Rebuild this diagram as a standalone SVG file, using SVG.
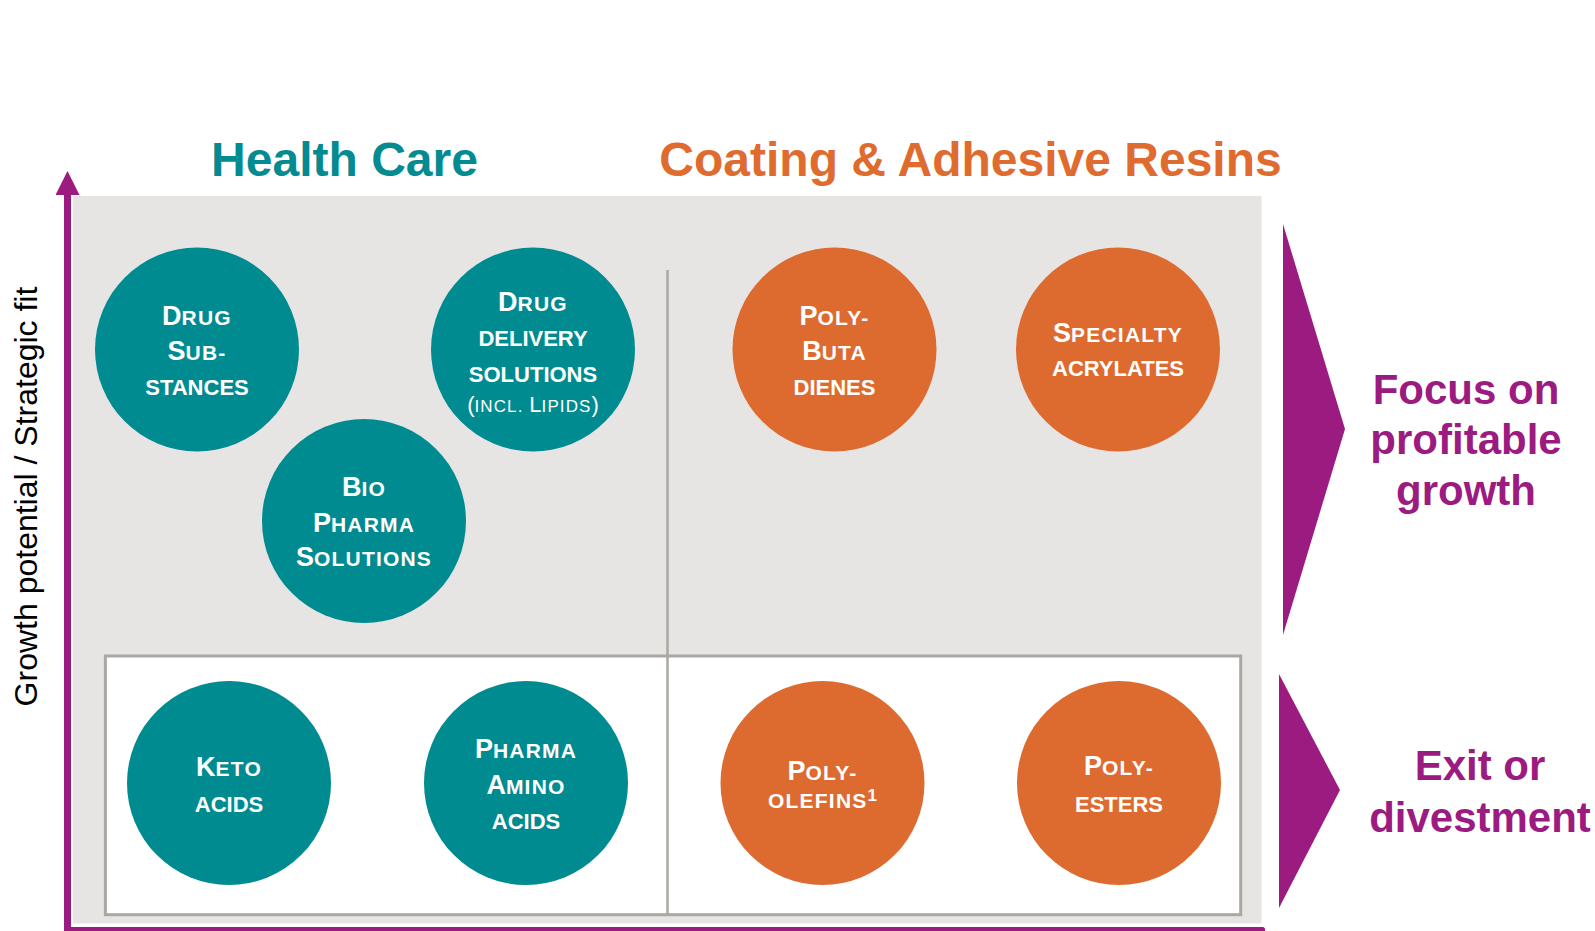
<svg xmlns="http://www.w3.org/2000/svg" width="1595" height="931" viewBox="0 0 1595 931">
  <style>
    .title { font-family: "Liberation Sans", Arial, sans-serif; font-weight: bold; font-size: 48px; text-anchor: middle; }
    .teal-t { fill: #038b91; }
    .orange-t { fill: #df6b2f; }
    .teal { fill: #008b91; }
    .orange { fill: #dd6b30; }
    .lbl { font-family: "Liberation Sans", Arial, sans-serif; font-weight: bold; fill: #ffffff; text-anchor: middle; }
    .cap { font-size: 27px; }
    .sc { font-size: 21px; letter-spacing: 1.2px; }
    .ln { font-size: 22px; }
    .reg { font-weight: normal; }
    .rcap { font-size: 22px; }
    .rsc { font-size: 17px; letter-spacing: 1.1px; }
    .sup { font-size: 17px; }
    .side { font-family: "Liberation Sans", Arial, sans-serif; font-weight: bold; font-size: 42px; fill: #9b1b81; text-anchor: middle; }
    .axis-lbl { font-family: "Liberation Sans", Arial, sans-serif; font-size: 32px; fill: #000000; text-anchor: middle; }
    .panel { fill: #e6e5e3; }
    .grid { fill: #ffffff; stroke: #aba7a2; stroke-width: 3; }
    .divider { stroke: #aba7a2; stroke-width: 2.5; }
  </style>
  <defs>
    <marker id="axis-head" markerUnits="userSpaceOnUse" markerWidth="24" markerHeight="24" viewBox="0 0 24 24" refX="0" refY="12" orient="auto">
      <path d="M0,0 L24,12 L0,24 Z" fill="#9b1b81"/>
    </marker>
  </defs>

  <rect width="1595" height="931" fill="#ffffff"/>

  <!-- Column headings -->
  <text class="title teal-t" x="344.5" y="176">Health Care</text>
  <text class="title orange-t" x="970.5" y="176">Coating &amp; Adhesive Resins</text>

  <!-- Portfolio matrix background -->
  <g id="matrix">
    <rect class="panel" x="73" y="196" width="1188.5" height="727.5"/>
    <rect class="grid" x="105.4" y="656" width="1135.3" height="258.7"/>
    <line class="divider" x1="667.5" y1="270" x2="667.5" y2="914.7"/>
  </g>

  <!-- Health Care businesses -->
  <g id="drug-substances">
    <circle class="teal" cx="197" cy="349.5" r="102"/>
    <text class="lbl" x="197" y="325"><tspan class="cap">D</tspan><tspan class="sc">RUG</tspan></text>
    <text class="lbl" x="197" y="359.5"><tspan class="cap">S</tspan><tspan class="sc">UB-</tspan></text>
    <text class="lbl ln" x="197" y="394.5">STANCES</text>
  </g>
  <g id="drug-delivery">
    <circle class="teal" cx="533" cy="349.5" r="102"/>
    <text class="lbl" x="533" y="311"><tspan class="cap">D</tspan><tspan class="sc">RUG</tspan></text>
    <text class="lbl ln" x="533" y="345.7">DELIVERY</text>
    <text class="lbl ln" x="533" y="381.7">SOLUTIONS</text>
    <text class="lbl reg" x="533" y="411.7"><tspan class="rcap">(</tspan><tspan class="rsc">INCL. </tspan><tspan class="rcap">L</tspan><tspan class="rsc">IPIDS</tspan><tspan class="rcap">)</tspan></text>
  </g>
  <g id="bio-pharma">
    <circle class="teal" cx="364" cy="521" r="102"/>
    <text class="lbl" x="364" y="496"><tspan class="cap">B</tspan><tspan class="sc">IO</tspan></text>
    <text class="lbl" x="364" y="531.5"><tspan class="cap">P</tspan><tspan class="sc">HARMA</tspan></text>
    <text class="lbl" x="364" y="565.5"><tspan class="cap">S</tspan><tspan class="sc">OLUTIONS</tspan></text>
  </g>
  <g id="keto-acids">
    <circle class="teal" cx="229" cy="783" r="102"/>
    <text class="lbl" x="229" y="776"><tspan class="cap">K</tspan><tspan class="sc">ETO</tspan></text>
    <text class="lbl ln" x="229" y="811.7">ACIDS</text>
  </g>
  <g id="pharma-amino-acids">
    <circle class="teal" cx="526" cy="783" r="102"/>
    <text class="lbl" x="526" y="758.3"><tspan class="cap">P</tspan><tspan class="sc">HARMA</tspan></text>
    <text class="lbl" x="526" y="794"><tspan class="cap">A</tspan><tspan class="sc">MINO</tspan></text>
    <text class="lbl ln" x="526" y="829.3">ACIDS</text>
  </g>

  <!-- Coating & Adhesive Resins businesses -->
  <g id="polybutadienes">
    <circle class="orange" cx="834.5" cy="349.5" r="102"/>
    <text class="lbl" x="834.5" y="325"><tspan class="cap">P</tspan><tspan class="sc">OLY-</tspan></text>
    <text class="lbl" x="834.5" y="360"><tspan class="cap">B</tspan><tspan class="sc">UTA</tspan></text>
    <text class="lbl ln" x="834.5" y="395.3">DIENES</text>
  </g>
  <g id="specialty-acrylates">
    <circle class="orange" cx="1118" cy="349.5" r="102"/>
    <text class="lbl" x="1118" y="341.7"><tspan class="cap">S</tspan><tspan class="sc">PECIALTY</tspan></text>
    <text class="lbl ln" x="1118" y="376">ACRYLATES</text>
  </g>
  <g id="polyolefins">
    <circle class="orange" cx="822.5" cy="783" r="102"/>
    <text class="lbl" x="822.5" y="780"><tspan class="cap">P</tspan><tspan class="sc">OLY-</tspan></text>
    <text class="lbl" x="822.5" y="808.3"><tspan class="sc">OLEFINS</tspan><tspan class="sup" dy="-7">1</tspan></text>
  </g>
  <g id="polyesters">
    <circle class="orange" cx="1119" cy="783" r="102"/>
    <text class="lbl" x="1119" y="775"><tspan class="cap">P</tspan><tspan class="sc">OLY-</tspan></text>
    <text class="lbl ln" x="1119" y="811.7">ESTERS</text>
  </g>

  <!-- Axes -->
  <g id="axes">
    <line x1="67.5" y1="931" x2="67.5" y2="195" stroke="#9b1b81" stroke-width="7" marker-end="url(#axis-head)"/>
    <rect x="64" y="927" width="1201" height="10" rx="2.5" fill="#9b1b81"/>
  </g>
  <text class="axis-lbl" transform="translate(37,496.5) rotate(-90)">Growth potential / Strategic fit</text>

  <!-- Strategy chevrons -->
  <g id="focus-growth">
    <polygon points="1283,224 1345,429 1283,635" fill="#9b1b81"/>
    <text class="side" x="1466" y="404">Focus on</text>
    <text class="side" x="1466" y="454">profitable</text>
    <text class="side" x="1466" y="505">growth</text>
  </g>
  <g id="exit-divestment">
    <polygon points="1279,674 1340,790 1279,908" fill="#9b1b81"/>
    <text class="side" x="1480" y="780">Exit or</text>
    <text class="side" x="1480" y="831.5">divestment</text>
  </g>
</svg>
